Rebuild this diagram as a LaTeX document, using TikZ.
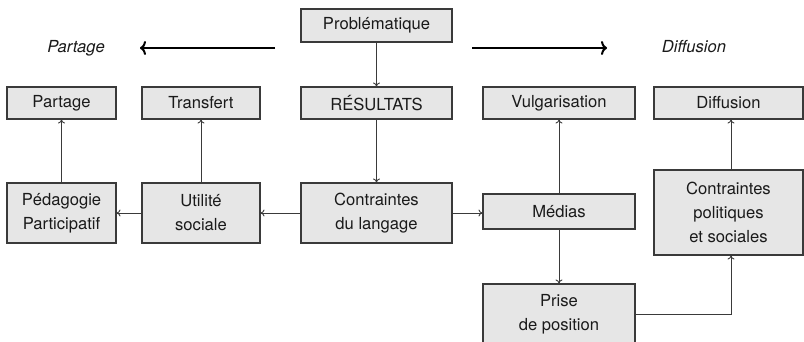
\documentclass[tikz,border=0pt]{standalone}
\usepackage{fontspec}
\setmainfont{TeX Gyre Heros}
\usetikzlibrary{arrows.meta}
\definecolor{boxfill}{HTML}{E6E6E6}
\definecolor{lineg}{HTML}{3A3A3A}
\definecolor{textc}{HTML}{1A1A1A}
\tikzset{
  box/.style={draw=lineg, line width=1.1pt, fill=boxfill, rectangle, inner sep=0pt,
    align=center, text=textc, font=\fontsize{16.6}{24}\selectfont},
  conn/.style={draw=lineg, line width=0.9pt, -{To[length=4pt,width=7pt]}},
  bigarrow/.style={draw=black, line width=2pt, -{To[length=6pt,width=14pt]}},
  lbl/.style={font=\fontsize{16.6}{24}\selectfont\itshape, text=textc, inner sep=0pt}
}
\begin{document}
\begin{tikzpicture}[x=1pt,y=-1pt]
\useasboundingbox (0,0) rectangle (804,342);
\clip (0,0) rectangle (804,342);
\node[box, minimum width=151pt, minimum height=33pt] (prob) at (376.5,25.5) {Problématique};
\node[box, minimum width=109pt, minimum height=32pt] (partage) at (61.5,103) {Partage};
\node[box, minimum width=118pt, minimum height=32pt] (transfert) at (201,103) {Transfert};
\node[box, minimum width=151pt, minimum height=32pt] (res) at (376.5,103) {RÉSULTATS};
\node[box, minimum width=152pt, minimum height=32pt] (vulg) at (559,103) {Vulgarisation};
\node[box, minimum width=149pt, minimum height=32pt] (diff) at (728.5,103) {Diffusion};
\node[box, minimum width=109pt, minimum height=60pt] (ped) at (61.5,213) {Pédagogie\\Participatif};
\node[box, minimum width=118pt, minimum height=60pt] (util) at (201,213) {Utilité\\sociale};
\node[box, minimum width=151pt, minimum height=60pt] (clang) at (376.5,213) {Contraintes\\du langage};
\node[box, minimum width=152pt, minimum height=35pt] (medias) at (559,211.5) {Médias};
\node[box, minimum width=149pt, minimum height=85pt] (cpol) at (728.5,212.5) {Contraintes\\politiques\\et sociales};
\node[box, minimum width=152pt, minimum height=60pt] (prise) at (559,314) {Prise\\de position};
\node[lbl] (lpart) at (76,48) {Partage};
\node[lbl] (ldiff) at (694,47) {Diffusion};
\coordinate (la) at (275,48);
\coordinate (lb) at (140,48);
\coordinate (ra) at (472,48);
\coordinate (rb) at (607,48);
\draw[bigarrow] (la) -- (lb);
\draw[bigarrow] (ra) -- (rb);
\draw[conn] (prob) -- (res);
\draw[conn] (res) -- (clang);
\draw[conn] (ped) -- (partage);
\draw[conn] (util) -- (transfert);
\draw[conn] (clang) -- (util);
\draw[conn] (util) -- (ped);
\draw[conn] (clang.east) -- (medias.west |- clang.east);
\draw[conn] (medias) -- (vulg);
\draw[conn] (medias) -- (prise);
\coordinate (corner) at (731,314);
\draw[conn] (prise.east) -- (corner) -- (corner |- cpol.south);
\draw[conn] (cpol.north -| corner) -- (corner |- diff.south);
\end{tikzpicture}
\end{document}
